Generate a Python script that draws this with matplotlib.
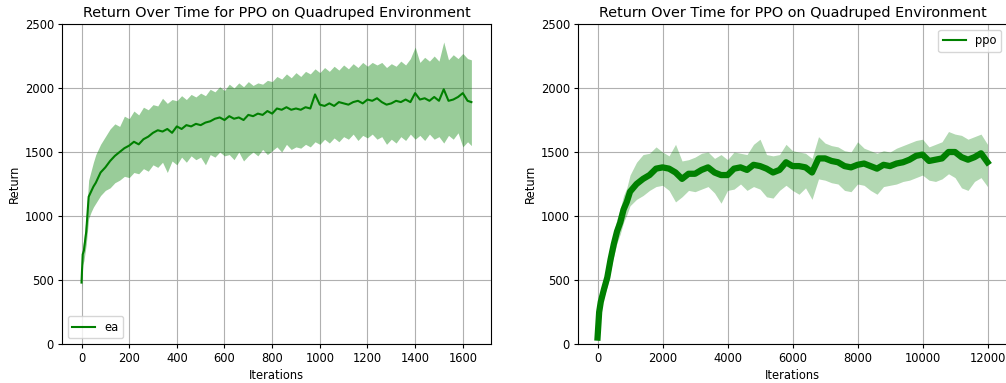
import matplotlib
matplotlib.use("Agg")
import matplotlib.pyplot as plt
from matplotlib.lines import Line2D

# ---- left panel: "ea" ----
ea_iter = [0, 5, 10, 20, 30, 40, 50, 60,
           80, 100, 120, 140, 160, 180, 200, 220, 240, 260, 280, 300,
           320, 340, 360, 380, 400, 420, 440, 460, 480, 500,
           520, 540, 560, 580, 600, 620, 640, 660, 680, 700,
           720, 740, 760, 780, 800, 820, 840, 860, 880, 900,
           920, 940, 960, 980, 1000, 1020, 1040, 1060, 1080, 1100,
           1120, 1140, 1160, 1180, 1200, 1220, 1240, 1260, 1280, 1300,
           1320, 1340, 1360, 1380, 1400, 1420, 1440, 1460, 1480, 1500,
           1520, 1540, 1560, 1580, 1600, 1620, 1636]
ea_mean = [480, 700, 730, 880, 1150, 1190, 1230, 1260,
           1340, 1380, 1430, 1470, 1500, 1530, 1550, 1580, 1560, 1600, 1620, 1650,
           1670, 1660, 1680, 1650, 1700, 1680, 1710, 1700, 1720, 1710,
           1730, 1740, 1760, 1770, 1750, 1780, 1760, 1770, 1750, 1790,
           1780, 1800, 1790, 1820, 1800, 1840, 1830, 1850, 1830, 1840,
           1830, 1850, 1840, 1950, 1870, 1860, 1880, 1860, 1890, 1880,
           1870, 1890, 1900, 1880, 1910, 1900, 1920, 1890, 1870, 1880,
           1900, 1890, 1910, 1890, 1960, 1910, 1920, 1900, 1930, 1900,
           1990, 1900, 1910, 1930, 1960, 1900, 1890]
ea_upper = [520, 760, 820, 1000, 1280, 1350, 1420, 1480,
            1560, 1620, 1680, 1720, 1700, 1780, 1760, 1820, 1790, 1850, 1830, 1870,
            1860, 1920, 1880, 1910, 1900, 1940, 1910, 1950, 1930, 1960,
            1940, 1990, 1970, 2010, 1980, 2030, 2000, 2040, 2010, 2050,
            2020, 2040, 2030, 2060, 2050, 2090, 2070, 2110, 2080, 2120,
            2090, 2130, 2110, 2150, 2120, 2160, 2130, 2170, 2140, 2180,
            2150, 2190, 2160, 2200, 2170, 2200, 2180, 2200, 2160, 2190,
            2170, 2210, 2180, 2230, 2320, 2200, 2240, 2210, 2250, 2210,
            2360, 2220, 2260, 2230, 2270, 2230, 2220]
ea_lower = [420, 620, 650, 780, 980, 1030, 1070, 1100,
            1160, 1200, 1220, 1260, 1280, 1310, 1300, 1340, 1330, 1370, 1350, 1400,
            1380, 1420, 1340, 1430, 1400, 1460, 1420, 1470, 1440, 1460,
            1400, 1480, 1460, 1500, 1470, 1480, 1440, 1500, 1430, 1470,
            1500, 1470, 1520, 1480, 1510, 1540, 1500, 1560, 1520, 1540,
            1530, 1560, 1540, 1580, 1560, 1600, 1570, 1610, 1580, 1620,
            1600, 1640, 1590, 1630, 1610, 1640, 1600, 1620, 1560, 1600,
            1570, 1620, 1590, 1640, 1600, 1630, 1590, 1640, 1600, 1620,
            1570, 1630, 1600, 1650, 1540, 1580, 1550]

# ---- right panel: "ppo" ----
ppo_iter = [0, 50, 100, 200, 300, 400, 500, 600, 700, 800, 900, 1000,
            1200, 1400, 1600, 1800, 2000, 2200, 2400, 2600, 2800, 3000,
            3200, 3400, 3600, 3800, 4000, 4200, 4400, 4600, 4800, 5000,
            5200, 5400, 5600, 5800, 6000, 6200, 6400, 6600, 6800, 7000,
            7200, 7400, 7600, 7800, 8000, 8200, 8400, 8600, 8800, 9000,
            9200, 9400, 9600, 9800, 10000, 10200, 10400, 10600, 10800, 11000,
            11200, 11400, 11600, 11800, 12000]
ppo_mean = [50, 250, 330, 430, 520, 660, 780, 880, 950, 1050, 1110, 1190,
            1250, 1290, 1320, 1370, 1380, 1370, 1340, 1290, 1330, 1330,
            1360, 1380, 1340, 1320, 1320, 1370, 1380, 1360, 1400, 1390,
            1370, 1340, 1360, 1420, 1390, 1390, 1380, 1340, 1450, 1450,
            1430, 1420, 1390, 1380, 1400, 1410, 1390, 1370, 1400, 1390,
            1410, 1420, 1440, 1470, 1480, 1430, 1440, 1450, 1500, 1500,
            1460, 1440, 1460, 1490, 1420]
ppo_upper = [80, 300, 390, 500, 600, 750, 870, 980, 1060, 1160, 1220, 1320,
             1420, 1480, 1490, 1540, 1500, 1470, 1560, 1430, 1440, 1460,
             1490, 1500, 1450, 1480, 1440, 1500, 1490, 1480, 1560, 1600,
             1480, 1470, 1480, 1560, 1510, 1500, 1490, 1450, 1620, 1570,
             1550, 1540, 1510, 1500, 1580, 1530, 1510, 1490, 1510, 1500,
             1530, 1550, 1570, 1590, 1600, 1540, 1560, 1580, 1660, 1640,
             1630, 1600, 1620, 1640, 1560]
ppo_lower = [20, 200, 280, 370, 450, 570, 690, 790, 860, 950, 1010, 1080,
             1130, 1160, 1200, 1230, 1240, 1200, 1110, 1150, 1200, 1190,
             1210, 1230, 1180, 1100, 1200, 1210, 1250, 1200, 1230, 1210,
             1150, 1140, 1200, 1240, 1200, 1170, 1220, 1130, 1290, 1280,
             1260, 1250, 1200, 1190, 1250, 1240, 1200, 1170, 1230, 1240,
             1250, 1270, 1280, 1300, 1320, 1280, 1270, 1290, 1330, 1300,
             1220, 1200, 1270, 1300, 1230]

TITLE = "Return Over Time for PPO on Quadruped Environment"
FS = 8.3

fig = plt.figure(figsize=(10.06, 3.83), dpi=100)
axL = fig.add_axes([0.0616, 0.1018, 0.4264, 0.8355])
axR = fig.add_axes([0.5746, 0.1018, 0.4264, 0.8355])

# left
axL.fill_between(ea_iter, ea_lower, ea_upper, color="green", alpha=0.4, lw=0)
axL.plot(ea_iter, ea_mean, color="green", lw=1.5, label="ea")
axL.legend(loc="lower left", fontsize=FS)

# right
axR.fill_between(ppo_iter, ppo_lower, ppo_upper, color="green", alpha=0.3, lw=0)
axR.plot(ppo_iter, ppo_mean, color="green", lw=4.5, solid_joinstyle="round")
axR.legend([Line2D([0], [0], color="green", lw=1.5)], ["ppo"], loc="upper right", fontsize=FS)

for ax in (axL, axR):
    ax.set_ylim(0, 2500)
    ax.set_yticks([0, 500, 1000, 1500, 2000, 2500])
    ax.grid(True, color="#b0b0b0", lw=0.8)
    ax.set_axisbelow(True)
    ax.set_title(TITLE, fontsize=10.4, pad=5)
    ax.set_xlabel("Iterations", fontsize=FS, labelpad=2.5)
    ax.set_ylabel("Return", fontsize=FS, labelpad=3)
    ax.tick_params(labelsize=FS, length=2.9, pad=2.9)

axL.set_xlim(-82, 1718)
axL.set_xticks(range(0, 1601, 200))
axR.set_xlim(-600, 12600)
axR.set_xticks(range(0, 12001, 2000))

fig.savefig("out.png", dpi=100)
